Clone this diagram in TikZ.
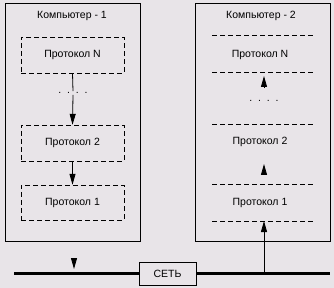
\documentclass[tikz,border=0pt]{standalone}
\usepackage{fontspec}
\setmainfont{Liberation Sans}
\usetikzlibrary{arrows.meta}
\definecolor{bggray}{RGB}{232,228,232}

\begin{document}
\begin{tikzpicture}[x=1pt, y=-1pt, font=\fontsize{10.5}{12}\selectfont,
    comp/.style={draw, line width=0.8pt, anchor=north west, inner sep=0pt},
    proto/.style={draw, dash pattern=on 5pt off 3pt, minimum width=103pt, minimum height=36pt},
    layer/.style={dash pattern=on 5pt off 3pt},
    arr/.style={line width=0.8pt, -{Triangle[width=6pt, length=11pt]}}]
    \fill[bggray] (0,0) rectangle (334,288);
    \useasboundingbox (0,0) rectangle (334,288);

    % computer 1
    \node[comp, minimum width=135pt, minimum height=238pt] (comp1) at (5,3) {};
    \node (title1) at (72,16) {Компьютер - 1};
    \node[proto] (pN1) at (72.5,55) {Протокол N};
    \node[inner sep=1pt] (dots1) at (73,93) {.\ \ .\ \ .\ \ .};
    \node[proto] (p21) at (72.5,143) {Протокол 2};
    \node[proto, minimum height=35pt] (p11) at (72.5,202.5) {Протокол 1};
    \draw[line width=0.8pt] (pN1.south) -- (dots1.north);
    \draw[arr] (dots1.south) -- (p21.north);
    \draw[arr] (p21.south) -- (p11.north);

    % computer 2
    \node[comp, minimum width=135pt, minimum height=238pt] (comp2) at (195,3) {};
    \node (title2) at (261,16) {Компьютер - 2};
    \foreach \y in {35,72,124,184,221}
        \draw[layer] (212,\y) -- (315,\y);
    \node (pN2) at (260,55) {Протокол N};
    \node[inner sep=1pt] (dots2) at (264,101) {.\ \ .\ \ .\ \ .};
    \node (p22) at (260,142) {Протокол 2};
    \node (p12) at (260,203) {Протокол 1};
    \coordinate (up1) at (264,87);
    \coordinate (up1t) at (264,76);
    \coordinate (up2) at (264,174);
    \coordinate (up2t) at (264,164);
    \draw[arr] (up1) -- (up1t);
    \draw[arr] (up2) -- (up2t);

    % network
    \node[draw, minimum width=57pt, minimum height=23pt] (net) at (167.5,273.5) {СЕТЬ};
    \coordinate (netL) at (14,273.5);
    \coordinate (netR) at (330,273.5);
    \draw[line width=3pt] (netL) -- (net.west);
    \draw[line width=3pt] (net.east) -- (netR);
    \coordinate (in1) at (264,273.5);
    \coordinate (in1t) at (264,221);
    \draw[arr] (in1) -- (in1t);
    \coordinate (out1) at (74,258);
    \coordinate (out1t) at (74,269);
    \draw[arr] (out1) -- (out1t);
\end{tikzpicture}
\end{document}
